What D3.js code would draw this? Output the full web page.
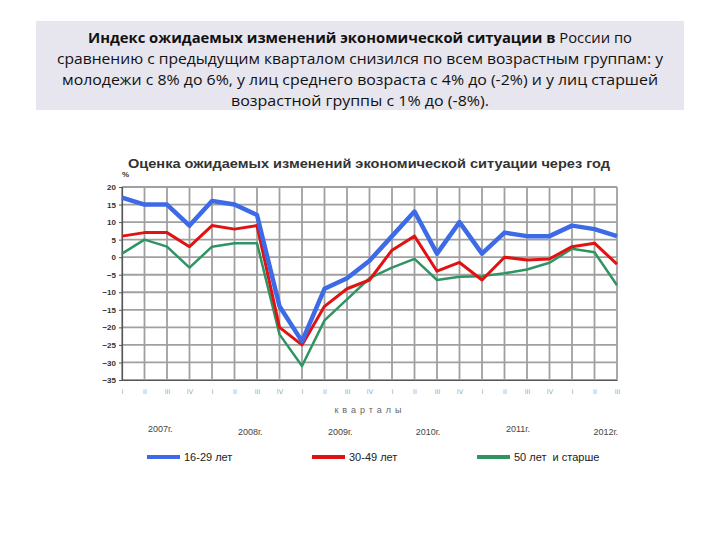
<!DOCTYPE html>
<html><head><meta charset="utf-8">
<script src="https://cdn.jsdelivr.net/npm/d3@7"></script>
<style>body{margin:0;background:#fff}svg{display:block}</style>
</head><body>
<svg id="c" width="720" height="540"></svg>
<script>
const quarters = ["I","II","III","IV","I","II","III","IV","I","II","III","IV","I","II","III","IV","I","II","III","IV","I","II","III"];
const years = ["2007г.","2008г.","2009г.","2010г.","2011г.","2012г."];
const yearPos = [1.7, 5.7, 9.7, 13.6, 17.6, 21.5];
const yTicks = [20,15,10,5,0,-5,-10,-15,-20,-25,-30,-35];
const young = [17,15,15,9,16,15,12,-14,-24,-9,-6,-1,6,13,1,10,1,7,6,6,9,8,6];
const middle = [6,7,7,3,9,8,9,-20,-25,-14,-9,-6.5,2,6,-4,-1.5,-6.5,0,-0.8,-0.5,3,4,-2];
const senior = [1,5,3,-3,3,4,4,-22,-31,-18,-12,-6,-3,-0.5,-6.5,-5.6,-5.4,-4.6,-3.5,-1.6,2.4,1.4,-8];
const seriesNames = ["16-29 лет","30-49 лет","50 лет  и старше"];
const seriesColors = ["#3d6ae6","#e01212","#2f9463"];
const seriesWidths = [4.5,3,2.5];
const titleLines = [
  [["Индекс ожидаемых изменений экономической ситуации в", true],[" России по", false]],
  [["сравнению с предыдущим кварталом снизился по всем возрастным группам: у", false]],
  [["молодежи с 8% до 6%, у лиц среднего возраста с 4% до (-2%) и у лиц старшей", false]],
  [["возрастной группы с 1% до (-8%).", false]]
];

const svg = d3.select("#c");
svg.append("rect").attr("width",720).attr("height",540).attr("fill","#fff");

// header box
svg.append("rect").attr("x",36).attr("y",21).attr("width",648).attr("height",89).attr("fill","#e7e5ee");
const lineW = [544, 606, 596, 258];
titleLines.forEach((parts,i)=>{
  const t = svg.append("text").attr("x",360).attr("y",43 + i*21)
    .attr("text-anchor","middle").attr("font-family","Open Sans, Noto Sans, sans-serif")
    .attr("font-size",15).attr("fill","#111")
    .attr("textLength", lineW[i]).attr("lengthAdjust","spacingAndGlyphs");
  parts.forEach(p=>{
    t.append("tspan").text(p[0]).attr("font-weight", p[1] ? "bold" : "normal");
  });
});

const x = d3.scalePoint().domain(d3.range(quarters.length)).range([122,617]);
const y = d3.scaleLinear().domain([-35,20]).range([380,187]);

// chart title
svg.append("text").attr("x",128).attr("y",168).attr("font-family","Liberation Sans, Arial, sans-serif")
  .attr("font-weight","bold").attr("font-size",13.5).attr("fill","#333")
  .attr("textLength",482).attr("lengthAdjust","spacingAndGlyphs")
  .text("Оценка ожидаемых изменений экономической ситуации через год");
svg.append("text").attr("x",122).attr("y",177).attr("font-family","Liberation Sans, Arial, sans-serif")
  .attr("font-size",8).attr("font-weight","bold").attr("fill","#333").text("%");

// grid
const g = svg.append("g");
g.selectAll(".hg").data(yTicks).join("line")
  .attr("x1",x(0)).attr("x2",x(quarters.length-1))
  .attr("y1",d=>y(d)).attr("y2",d=>y(d))
  .attr("stroke","#a0a0a0").attr("stroke-width",1.8);
g.selectAll(".vg").data(d3.range(quarters.length)).join("line")
  .attr("x1",d=>x(d)).attr("x2",d=>x(d))
  .attr("y1",y(20)).attr("y2",y(-35))
  .attr("stroke","#a0a0a0").attr("stroke-width",1.8);

// axes
const ya = svg.append("g").attr("transform",`translate(${x(0)},0)`)
  .call(d3.axisLeft(y).tickValues(yTicks).tickSize(3).tickPadding(3));
ya.select(".domain").attr("stroke","#555").attr("stroke-width",1.2);
ya.selectAll(".tick line").attr("stroke","#555");
ya.selectAll("text").attr("font-family","Liberation Sans, Arial, sans-serif").attr("font-size",8)
  .attr("font-weight","bold").attr("fill","#333");

const xa = svg.append("g").attr("transform",`translate(0,${y(-35)})`)
  .call(d3.axisBottom(x).tickFormat(i=>quarters[i]).tickSize(0).tickPadding(9));
xa.select(".domain").attr("stroke","#555").attr("stroke-width",1.2);
xa.selectAll("text").attr("font-family","DejaVu Sans, sans-serif").attr("font-size",6.5)
  .attr("fill","#a8a8a8");

// lines
const line = d3.line().x((d,i)=>x(i)).y(d=>y(d));
[young, middle, senior].slice().reverse().forEach((s,ri)=>{
  const k = 2-ri;
  svg.append("path").datum(s).attr("d",line).attr("fill","none")
    .attr("stroke",seriesColors[k]).attr("stroke-width",seriesWidths[k])
    .attr("stroke-linejoin","round");
});

// axis title
svg.append("text").attr("x",370).attr("y",413).attr("text-anchor","middle")
  .attr("font-family","Liberation Sans, Arial, sans-serif").attr("font-size",9)
  .attr("letter-spacing",4).attr("fill","#666").text("кварталы");

// years
svg.selectAll(".yr").data(years).join("text")
  .attr("x",(d,i)=>x(0) + (x(1)-x(0))*yearPos[i]).attr("y",(d,i)=> (i===0||i===4) ? 432 : 435)
  .attr("text-anchor","middle").attr("font-family","Liberation Sans, Arial, sans-serif")
  .attr("font-size",9).attr("fill","#444").text(d=>d);

// legend
const legX = [147, 312, 477];
seriesNames.forEach((n,i)=>{
  svg.append("line").attr("x1",legX[i]).attr("x2",legX[i]+33).attr("y1",457).attr("y2",457)
    .attr("stroke",seriesColors[i]).attr("stroke-width",4);
  svg.append("text").attr("x",legX[i]+37).attr("y",461)
    .attr("font-family","Liberation Sans, Arial, sans-serif").attr("font-size",11)
    .attr("fill","#222").attr("xml:space","preserve").text(n);
});
</script>
</body></html>
